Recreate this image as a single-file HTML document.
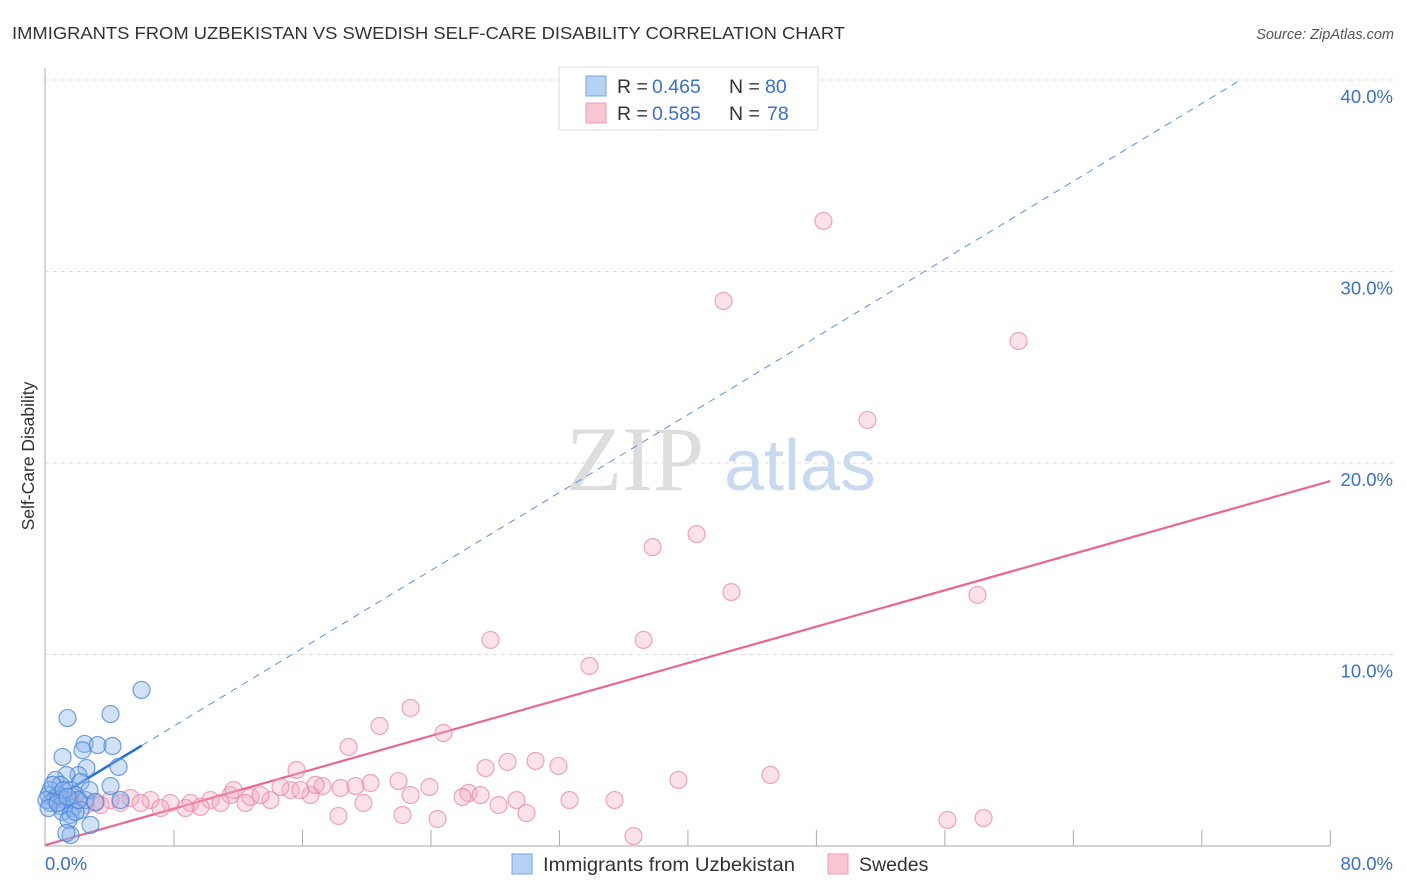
<!DOCTYPE html>
<html><head><meta charset="utf-8">
<style>
body{margin:0;background:#fff;font-family:"Liberation Sans",sans-serif;}
svg{display:block}
</style></head>
<body>
<svg id="chart" width="1406" height="892">
<text x="12" y="39" font-size="17.5" fill="#333" textLength="833" lengthAdjust="spacingAndGlyphs">IMMIGRANTS FROM UZBEKISTAN VS SWEDISH SELF-CARE DISABILITY CORRELATION CHART</text>
<text x="1394" y="39" font-size="14.5" fill="#555" font-style="italic" text-anchor="end">Source: ZipAtlas.com</text>
<text x="34" y="456" font-size="17.5" fill="#333" text-anchor="middle" transform="rotate(-90 34 456)">Self-Care Disability</text>
<g id="grid"></g>
<g id="wm">
<text x="635" y="490" font-size="92" fill="#ddd" font-family="Liberation Serif,serif" text-anchor="middle">ZIP</text>
<text x="800" y="490" font-size="72" fill="#c9daf0" text-anchor="middle">atlas</text>
</g>
<g id="lines"></g>
<g id="pts"></g>
<g>
<rect x="559" y="67" width="259" height="63" fill="#fff" stroke="#ddd"/>
<rect x="586" y="76" width="20" height="20" fill="#b6d1f4" stroke="#7aa6e0"/>
<rect x="586" y="103" width="20" height="20" fill="#f9c6d4" stroke="#ee9cb4"/>
<text x="617" y="93" font-size="19.5" fill="#333">R =</text>
<text x="652" y="93" font-size="19.5" fill="#3a6fd0">0.465</text>
<text x="729" y="93" font-size="19.5" fill="#333">N =</text>
<text x="765" y="93" font-size="19.5" fill="#3a6fd0">80</text>
<text x="617" y="120" font-size="19.5" fill="#333">R =</text>
<text x="652" y="120" font-size="19.5" fill="#3a6fd0">0.585</text>
<text x="729" y="120" font-size="19.5" fill="#333">N =</text>
<text x="767" y="120" font-size="19.5" fill="#3a6fd0">78</text>
</g>
<g>
<rect x="512" y="854" width="20" height="20" fill="#b6d1f4" stroke="#7aa6e0"/>
<text x="543" y="871" font-size="19.5" fill="#333" textLength="252" lengthAdjust="spacingAndGlyphs">Immigrants from Uzbekistan</text>
<rect x="828" y="854" width="20" height="20" fill="#f9c6d4" stroke="#ee9cb4"/>
<text x="859" y="871" font-size="19.5" fill="#333">Swedes</text>
</g>
</svg>
<script>
const xTicks=[0,8,16,24,32,40,48,56,64,72,80];
const yTicks=[10,20,30,40];
const blueX=[5.98,1.37,4.05,2.43,3.24,4.17,1.06,4.55,2.3,2.55,2.05,1.3,0.62,0.93,0.31,1.56,2.18,0.19,0.62,1.25,1.87,0.31,0.93,1.68,2.49,1.06,1.56,2.18,4.05,2.74,1.43,1.87,2.8,1.56,1.3,0.81,0.06,0.19,0.44,1.12,2.05,3.11,4.67,0.75,1.37];
const blueY=[8.15,6.68,6.89,5.33,5.27,5.22,4.65,4.13,5.0,4.07,3.7,3.7,3.45,3.19,2.92,2.92,3.34,2.66,2.5,2.4,2.66,2.25,2.09,1.98,2.4,1.78,1.62,1.88,3.13,2.92,1.36,1.78,1.1,0.57,0.68,2.66,2.4,1.98,3.19,2.92,2.4,2.3,2.4,2.25,2.56];
const pinkX=[48.44,42.22,60.59,51.18,40.54,37.8,42.71,58.03,27.71,37.24,33.87,22.73,20.8,24.78,18.87,30.51,28.77,31.94,27.4,45.14,39.41,15.63,21.98,20.24,18.37,17.25,15.26,23.91,19.3,26.34,22.73,14.01,12.76,11.52,10.27,9.03,7.78,6.54,5.29,4.05,3.11,1.99,0.93,11.71,13.39,14.63,16.5,10.9,9.65,8.72,7.16,5.92,4.67,3.42,25.97,28.21,29.33,32.63,35.43,29.95,22.23,18.24,19.8,24.41,36.61,56.16,58.41,12.45,15.88,16.81,27.09,2.49,1.56,0.62];
const pinkY=[32.64,28.46,26.37,22.25,16.29,15.61,13.26,13.11,10.76,10.76,9.4,7.21,6.27,5.9,5.17,4.44,4.39,4.18,4.07,3.71,3.45,3.97,3.39,3.29,3.03,3.13,2.92,3.08,3.13,2.77,2.66,2.4,2.56,2.66,2.4,2.25,2.25,2.4,2.51,2.4,2.25,2.4,2.56,2.92,2.66,3.08,2.66,2.25,2.04,1.98,1.98,2.25,2.25,2.14,2.56,2.14,2.4,2.4,2.4,1.72,1.62,1.57,2.25,1.41,0.52,1.36,1.46,2.25,2.92,3.19,2.66,2.14,2.4,2.4];
const blueTrend=[2.2,0.508];
const pinkTrend=[0.05,0.2376];
const sx=v=>45.5+v*16.06;
const sy=v=>846-v*19.15;
const NS='http://www.w3.org/2000/svg';
function mk(t,a,p){const e=document.createElementNS(NS,t);for(const k in a)e.setAttribute(k,a[k]);p.appendChild(e);return e;}
const grid=document.getElementById('grid');
yTicks.forEach(t=>{
 const l=mk('line',{x1:45,x2:1395,y1:sy(t),y2:sy(t),stroke:'#ddd','stroke-dasharray':'4 4'},grid);
 
 
 const tx=mk('text',{x:1393,y:sy(t)+23,'font-size':18.5,fill:'#3a6fd0','text-anchor':'end'},grid);
 tx.textContent=t.toFixed(1)+'%';
 
 
});
const ax=mk('path',{d:'M45 68 V846 H1330',stroke:'#aaa',fill:'none'},grid);


xTicks.slice(1).forEach(t=>{
 const l=mk('line',{x1:sx(t),x2:sx(t),y1:830,y2:846,stroke:'#aaa'},grid);
 
 
});
[[0,'start',45],[80,'end',1393]].forEach(([v,a,x])=>{
 const tx=mk('text',{x:x,y:870,'font-size':18.5,fill:'#3a6fd0','text-anchor':a},grid);
 tx.textContent=v.toFixed(1)+'%';
 
 
});
const pts=document.getElementById('pts');
pinkX.forEach((x,i)=>{
 const c=mk('circle',{cx:sx(x),cy:sy(pinkY[i]),r:8.5,fill:'rgba(244,170,192,0.35)',stroke:'rgba(232,130,160,0.7)','stroke-width':1.2},pts);
 
 
});
blueX.forEach((x,i)=>{
 const c=mk('circle',{cx:sx(x),cy:sy(blueY[i]),r:8.5,fill:'rgba(140,180,235,0.4)',stroke:'rgba(70,130,215,0.75)','stroke-width':1.2},pts);
 
 
});
const lines=document.getElementById('lines');
const bl=x=>blueTrend[0]+blueTrend[1]*x, pl=x=>pinkTrend[0]+pinkTrend[1]*x;
const bxEnd=(40-blueTrend[0])/blueTrend[1];
let l=mk('line',{x1:sx(6),y1:sy(bl(6)),x2:sx(bxEnd),y2:sy(40),stroke:'#5b8fd9','stroke-dasharray':'7 6','stroke-width':1},lines);


l=mk('line',{x1:sx(1.5),y1:sy(bl(1.5)),x2:sx(6),y2:sy(bl(6)),stroke:'#2a6fd6','stroke-width':2.5},lines);


l=mk('line',{x1:sx(0),y1:sy(pl(0)),x2:sx(80),y2:sy(pl(80)),stroke:'#e8668f','stroke-width':2.2},lines);


</script>
</body></html>
